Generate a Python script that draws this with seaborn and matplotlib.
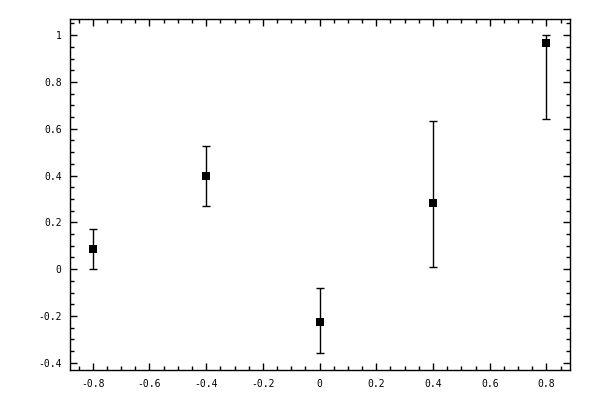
import matplotlib
matplotlib.use("Agg")
import matplotlib.pyplot as plt
import numpy as np
import pandas as pd
import seaborn as sns
from matplotlib.ticker import MultipleLocator

x_vals = [-0.8, -0.4, 0.0, 0.4, 0.8]
y_vals = [0.085, 0.399, -0.226, 0.282, 0.966]
y_low = [0.0, 0.27, -0.359, 0.009, 0.641]
y_high = [0.171, 0.528, -0.081, 0.632, 1.0]

df = pd.DataFrame({"x": x_vals, "y": y_vals, "lo": y_low, "hi": y_high})

sns.set_style("ticks")
plt.rcParams["font.family"] = ["DejaVu Sans Mono", "DejaVu Sans"]
plt.rcParams["axes.unicode_minus"] = False

fig = plt.figure(figsize=(6, 4), dpi=100)
ax = fig.add_axes([0.1167, 0.0743, 0.8333, 0.8777])

yerr = np.vstack([df["y"] - df["lo"], df["hi"] - df["y"]])
ax.errorbar(df["x"], df["y"], yerr=yerr, fmt="none", ecolor="black",
            elinewidth=1, capsize=3, capthick=1)
sns.scatterplot(data=df, x="x", y="y", marker="s", color="black",
                s=30, edgecolor="black", linewidth=0, ax=ax, zorder=3)

ax.set_xlim(-0.88, 0.883)
ax.set_ylim(-0.432, 1.068)
ax.xaxis.set_major_locator(MultipleLocator(0.2))
ax.xaxis.set_minor_locator(MultipleLocator(0.05))
ax.yaxis.set_major_locator(MultipleLocator(0.2))
ax.yaxis.set_minor_locator(MultipleLocator(0.05))
ax.xaxis.set_major_formatter(plt.FuncFormatter(lambda v, p: f"{v:g}" if abs(v) > 1e-9 else "0"))
ax.yaxis.set_major_formatter(plt.FuncFormatter(lambda v, p: f"{v:g}" if abs(v) > 1e-9 else "0"))
ax.tick_params(which="both", direction="in", top=True, right=True,
               labelsize=7, colors="black", width=1)
ax.tick_params(which="major", length=5, pad=6)
ax.tick_params(which="minor", length=3)
ax.set_xlabel("")
ax.set_ylabel("")
for sp in ax.spines.values():
    sp.set_linewidth(1)
    sp.set_color("black")

fig.savefig("out.png", dpi=100)
